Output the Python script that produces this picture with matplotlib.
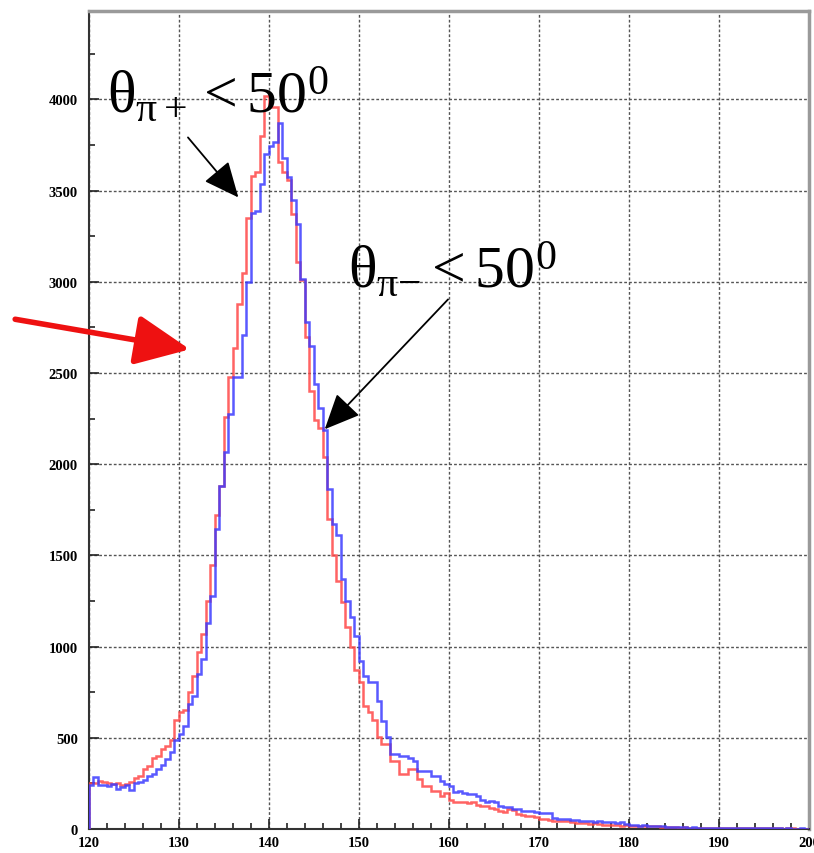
import numpy as np
import matplotlib.pyplot as plt
from matplotlib.ticker import MultipleLocator

plt.rcParams['mathtext.fontset'] = 'custom'
plt.rcParams['mathtext.rm'] = 'Liberation Serif'
plt.rcParams['mathtext.it'] = 'Liberation Serif'
plt.rcParams['mathtext.bf'] = 'Liberation Serif:bold'

# bin edges: 120 .. 200, width 0.5
edges = np.arange(120, 200.5, 0.5)

# theta_pi+ < 50 deg (red)
pi_plus = [
    250, 250, 265, 260, 250, 245, 250, 240, 245, 260,      # 120-124.5
    280, 290, 330, 345, 390, 400, 440, 455, 490, 600,      # 125-129.5
    640, 655, 750, 840, 970, 1070, 1250, 1450, 1720, 1880,  # 130-134.5
    2260, 2480, 2640, 2880, 3050, 3350, 3580, 3600, 3800, 4020,  # 135-139.5
    3960, 3960, 3660, 3600, 3560, 3370, 3110, 3010, 2700, 2400,  # 140-144.5
    2240, 2200, 2040, 1700, 1500, 1360, 1245, 1110, 1000, 870,   # 145-149.5
    805, 675, 640, 600, 505, 466, 466, 373, 373, 300,      # 150-154.5
    300, 330, 329, 275, 236, 236, 210, 208, 181, 200,      # 155-159.5
    160, 150, 148, 150, 145, 148, 130, 126, 125, 115,      # 160-164.5
    110, 100, 95, 110, 105, 85, 75, 70, 72, 68,            # 165-169.5
    55, 55, 52, 45, 44, 45, 42, 40, 35, 33,                # 170-174.5
    33, 30, 32, 25, 22, 22, 20, 22, 18, 20,                # 175-179.5
    18, 15, 18, 16, 14, 15, 18, 12, 10, 9,                 # 180-184.5
    10, 8, 9, 7, 8, 6, 7, 8, 6, 5,                         # 185-189.5
    6, 5, 6, 4, 5, 4, 5, 3, 4, 4,                          # 190-194.5
    3, 4, 3, 3, 2, 3, 3, 2, 2, 2,                          # 195-199.5
]

# theta_pi- < 50 deg (blue)
pi_minus = [
    240, 285, 240, 240, 235, 245, 220, 230, 240, 215,      # 120-124.5
    250, 258, 270, 290, 300, 330, 350, 385, 420, 490,      # 125-129.5
    520, 565, 685, 730, 850, 930, 1130, 1280, 1645, 1880,  # 130-134.5
    2065, 2275, 2480, 2480, 2710, 3000, 3380, 3390, 3535, 3700,  # 135-139.5
    3745, 3765, 3870, 3680, 3575, 3450, 3315, 3015, 2780, 2650,  # 140-144.5
    2440, 2310, 2190, 1865, 1670, 1610, 1370, 1250, 1160, 1060,  # 145-149.5
    920, 840, 805, 805, 700, 590, 505, 411, 411, 400,      # 150-154.5
    400, 390, 373, 320, 318, 318, 290, 290, 265, 245,      # 155-159.5
    236, 205, 208, 195, 190, 192, 181, 160, 150, 155,      # 160-164.5
    150, 125, 120, 118, 110, 112, 100, 98, 99, 95,         # 165-169.5
    90, 88, 86, 60, 55, 57, 55, 52, 50, 45,                # 170-174.5
    44, 46, 40, 42, 38, 38, 36, 35, 38, 30,                # 175-179.5
    22, 20, 18, 20, 17, 18, 15, 16, 12, 10,                # 180-184.5
    11, 9, 10, 8, 9, 7, 8, 7, 6, 7,                        # 185-189.5
    6, 5, 6, 5, 4, 5, 4, 4, 3, 4,                          # 190-194.5
    3, 3, 4, 3, 2, 3, 2, 2, 3, 2,                          # 195-199.5
]

fig = plt.figure(figsize=(8.14, 8.54), dpi=100)
ax = fig.add_axes([0.1093, 0.0281, 0.8845, 0.9578])

ax.stairs(pi_plus, edges, baseline=0, color='#ff4848', lw=1.8, alpha=0.85, zorder=3)
ax.stairs(pi_minus, edges, baseline=0, color='#3c3cff', lw=1.8, alpha=0.85, zorder=4)

ax.set_xlim(120, 200)
ax.set_ylim(0, 4485)

ax.xaxis.set_major_locator(MultipleLocator(10))
ax.xaxis.set_minor_locator(MultipleLocator(2))
ax.yaxis.set_major_locator(MultipleLocator(500))
ax.yaxis.set_minor_locator(MultipleLocator(250))
ax.tick_params(which='both', direction='in', top=False, right=False, color='#222')
ax.tick_params(which='major', length=7, width=1.2)
ax.tick_params(which='minor', length=4, width=1.2)
ax.tick_params(axis='y', which='major', pad=8)
ax.tick_params(axis='x', which='major', pad=5)
ax.grid(True, which='major', color='#555', lw=1.0, linestyle=(0, (2, 1.5)))

for lab in ax.get_xticklabels() + ax.get_yticklabels():
    lab.set_fontfamily('Liberation Serif')
    lab.set_fontweight('bold')
    lab.set_fontsize(10.5)

for s in ['top', 'right']:
    ax.spines[s].set_color('#9a9a9a')
    ax.spines[s].set_linewidth(2.5)
for s in ['left', 'bottom']:
    ax.spines[s].set_color('#333')
    ax.spines[s].set_linewidth(1.5)

ax.text(122.0, 3930, r'$\theta_{\pi+} < 50^0$', fontsize=43, va='baseline', ha='left', zorder=6)
ax.text(148.8, 2970, r'$\theta_{\pi\mathrm{-}} < 50^0$', fontsize=43, va='baseline', ha='left', zorder=6)

arrow_kw = dict(arrowstyle='-|>,head_length=1.0,head_width=0.45', color='black', lw=1.3,
                mutation_scale=22, shrinkA=0, shrinkB=0)
ax.annotate('', xy=(136.6, 3463), xytext=(131.0, 3792), arrowprops=arrow_kw, zorder=7)
ax.annotate('', xy=(146.2, 2192), xytext=(159.9, 2904), arrowprops=arrow_kw, zorder=7)

ax.annotate('', xy=(131.2, 2630), xytext=(111.8, 2795), annotation_clip=False,
            arrowprops=dict(arrowstyle='-|>,head_length=1.2,head_width=0.55', color='#ee1111',
                            lw=4, mutation_scale=28, shrinkA=0, shrinkB=0), zorder=7)

fig.savefig('out.png', dpi=100)
